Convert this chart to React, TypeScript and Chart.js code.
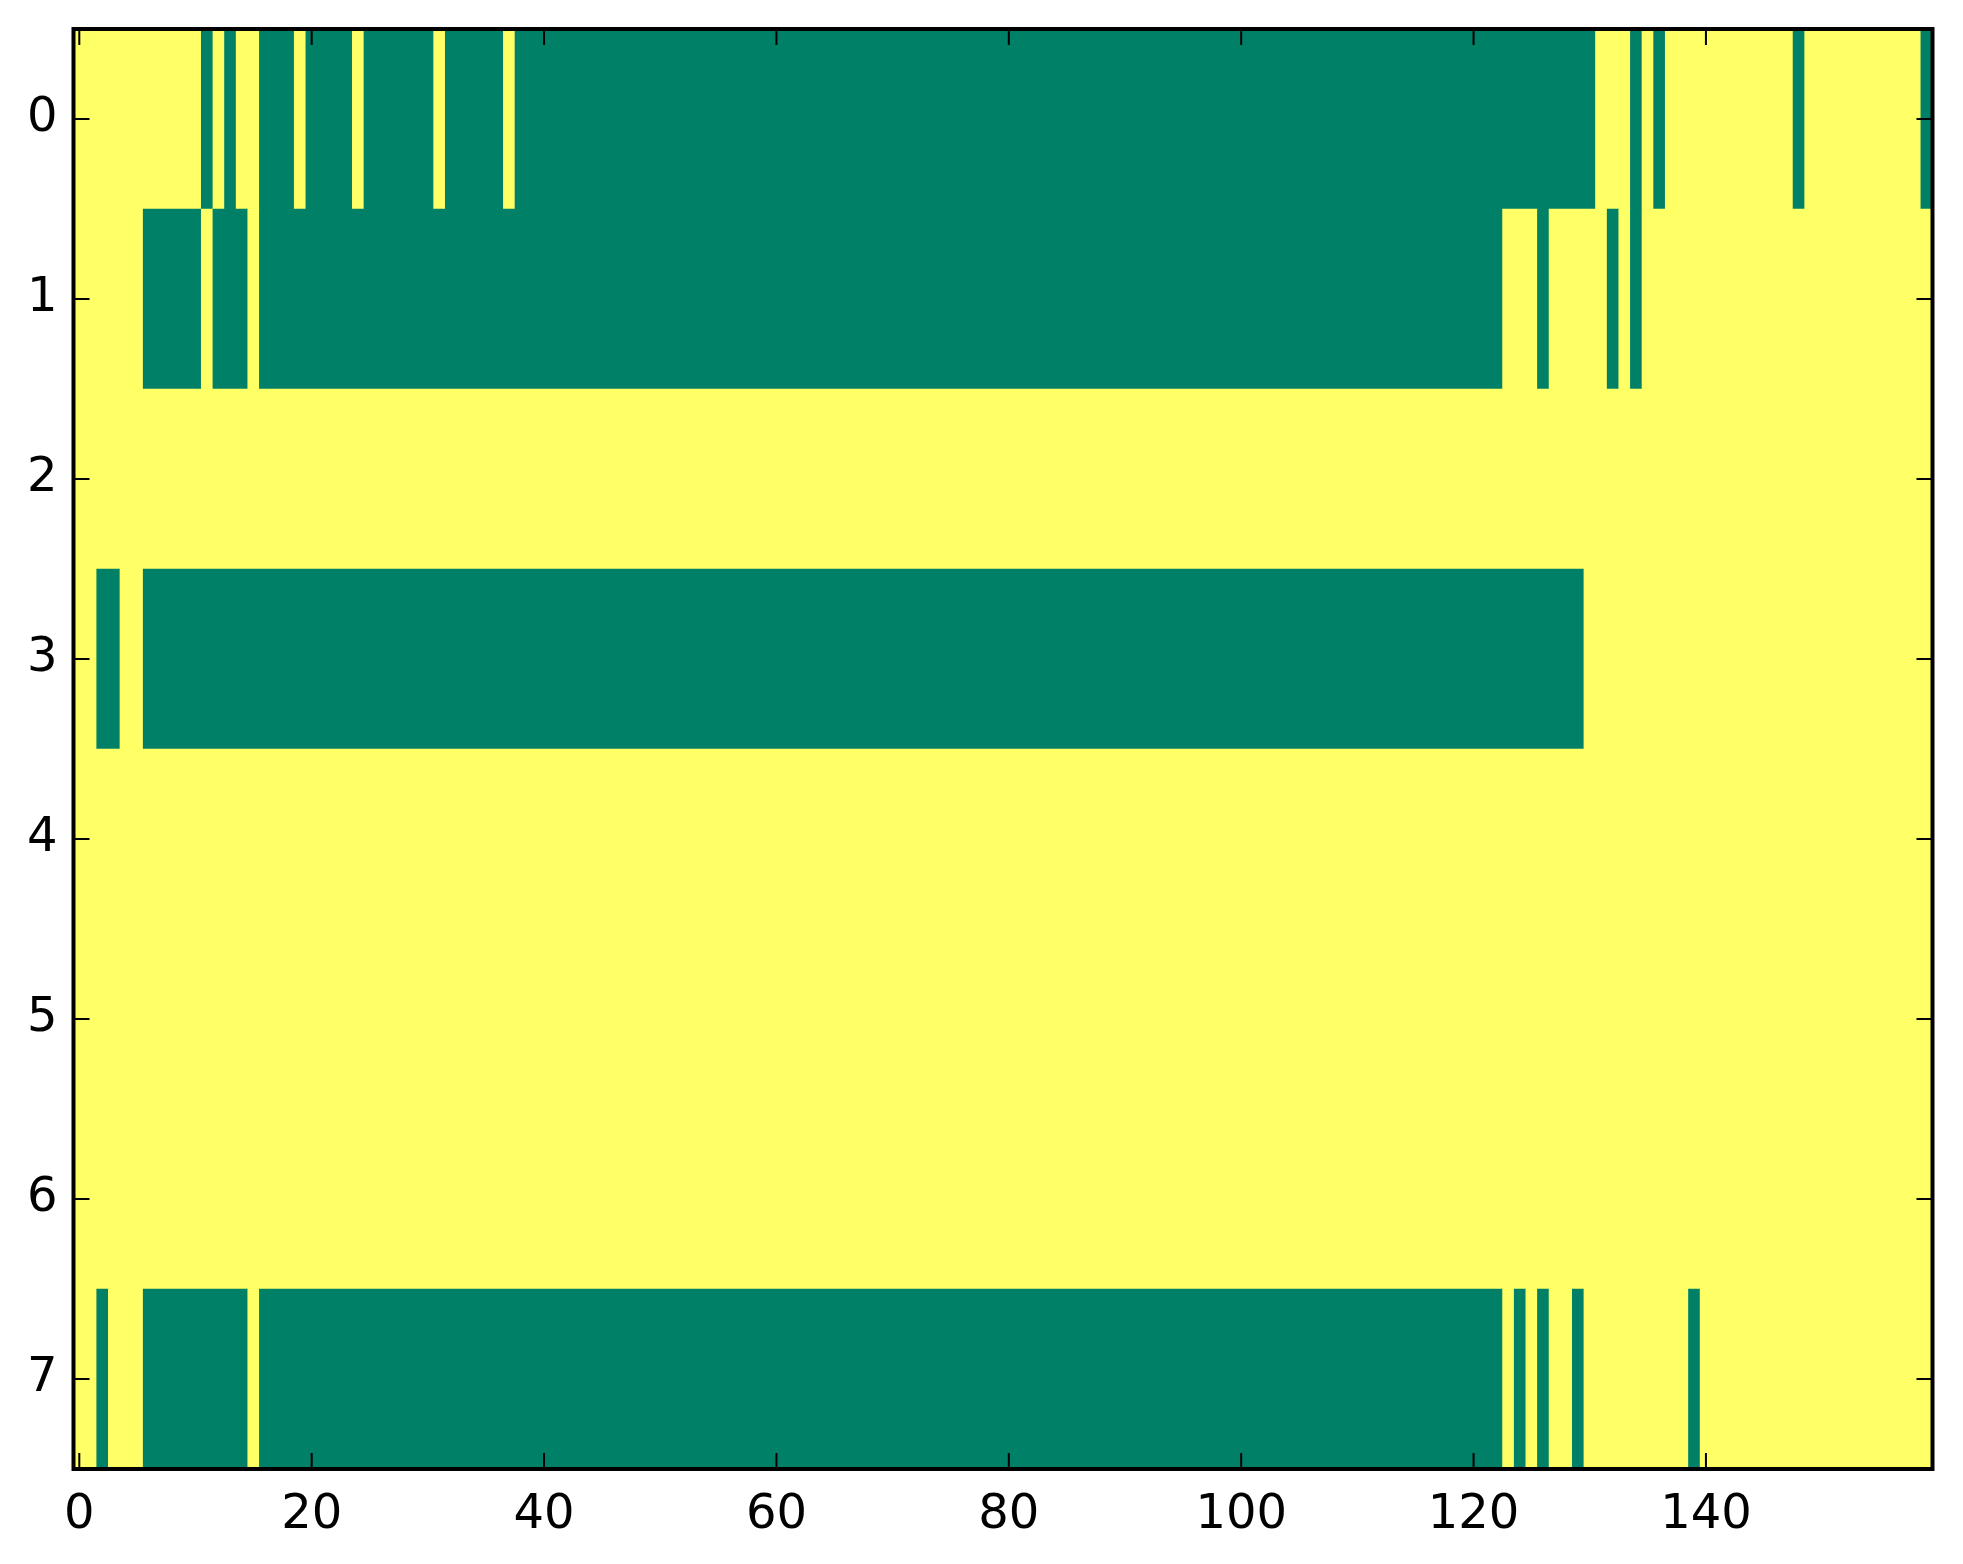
import { useEffect, useRef } from 'react';
import { Chart, registerables } from 'chart.js';

Chart.register(...registerables);

const rowTicks = [0, 1, 2, 3, 4, 5, 6, 7];
const colTicks = [0, 20, 40, 60, 80, 100, 120, 140];

// one string per row, 160 columns in groups of ten; 1 = high (yellow), 0 = low (green)
const row0 = '1111111111 1010110001 0000100000 0100000100 0000000000 0000000000 0000000000 0000000000 0000000000 0000000000 0000000000 0000000000 0000000000 0111010111 1111111101 1111111110';
const row1 = '1111110000 0100010000 0000000000 0000000000 0000000000 0000000000 0000000000 0000000000 0000000000 0000000000 0000000000 0000000000 0001110111 1101011111 1111111111 1111111111';
const row2 = '1111111111 1111111111 1111111111 1111111111 1111111111 1111111111 1111111111 1111111111 1111111111 1111111111 1111111111 1111111111 1111111111 1111111111 1111111111 1111111111';
const row3 = '1100110000 0000000000 0000000000 0000000000 0000000000 0000000000 0000000000 0000000000 0000000000 0000000000 0000000000 0000000000 0000000000 1111111111 1111111111 1111111111';
const row4 = '1111111111 1111111111 1111111111 1111111111 1111111111 1111111111 1111111111 1111111111 1111111111 1111111111 1111111111 1111111111 1111111111 1111111111 1111111111 1111111111';
const row5 = '1111111111 1111111111 1111111111 1111111111 1111111111 1111111111 1111111111 1111111111 1111111111 1111111111 1111111111 1111111111 1111111111 1111111111 1111111111 1111111111';
const row6 = '1111111111 1111111111 1111111111 1111111111 1111111111 1111111111 1111111111 1111111111 1111111111 1111111111 1111111111 1111111111 1111111111 1111111111 1111111111 1111111111';
const row7 = '1101110000 0000010000 0000000000 0000000000 0000000000 0000000000 0000000000 0000000000 0000000000 0000000000 0000000000 0000000000 0001010110 1111111110 1111111111 1111111111';

const LOW = '#008066';
const HIGH = '#ffff66';
const FONT = { family: "'DejaVu Sans', sans-serif", size: 48 };

const grid = [row0, row1, row2, row3, row4, row5, row6, row7].map((s) =>
  s.replace(/ /g, '').split('').map(Number)
);
const nCols = grid[0].length;

// merge equal neighbours of a row into one floating bar
const cells: { x: [number, number]; y: number; v: number }[] = [];
grid.forEach((vals, r) => {
  let start = 0;
  for (let c = 1; c <= vals.length; c++) {
    if (c === vals.length || vals[c] !== vals[start]) {
      cells.push({ x: [start - 0.5, c - 0.5], y: r, v: vals[start] });
      start = c;
    }
  }
});

const framePlugin = {
  id: 'frame',
  afterDatasetsDraw(chart: any) {
    const { ctx, chartArea: a, scales } = chart;
    ctx.save();
    ctx.strokeStyle = '#000';
    ctx.lineWidth = 2;
    ctx.beginPath();
    colTicks.forEach((v) => {
      const px = scales.x.getPixelForValue(v);
      ctx.moveTo(px, a.bottom);
      ctx.lineTo(px, a.bottom - 16);
      ctx.moveTo(px, a.top);
      ctx.lineTo(px, a.top + 16);
    });
    rowTicks.forEach((v) => {
      const py = scales.y.getPixelForValue(v);
      ctx.moveTo(a.left, py);
      ctx.lineTo(a.left + 16, py);
      ctx.moveTo(a.right, py);
      ctx.lineTo(a.right - 16, py);
    });
    ctx.stroke();
    ctx.lineWidth = 4;
    ctx.strokeRect(a.left, a.top, a.right - a.left, a.bottom - a.top);
    ctx.restore();
  },
};

export default function App() {
  const canvasRef = useRef<HTMLCanvasElement>(null);

  useEffect(() => {
    if (!canvasRef.current) return;
    const chart = new Chart(canvasRef.current, {
      type: 'bar',
      data: {
        datasets: [
          {
            data: cells as any,
            backgroundColor: cells.map((c) => (c.v ? HIGH : LOW)),
            borderWidth: 0,
            barPercentage: 1,
            categoryPercentage: 1,
          },
        ],
      },
      options: {
        indexAxis: 'y',
        animation: false,
        responsive: false,
        devicePixelRatio: 1,
        layout: { padding: { top: 29, right: 30.5, left: 0, bottom: 0 } },
        plugins: { legend: { display: false }, tooltip: { enabled: false } },
        scales: {
          x: {
            type: 'linear',
            offset: false,
            min: -0.5,
            max: nCols - 0.5,
            grid: { display: false, drawTicks: false, offset: false },
            border: { display: false },
            afterBuildTicks: (s: any) => {
              s.ticks = colTicks.map((value) => ({ value }));
            },
            afterFit: (s: any) => {
              s.height = 95;
              s.paddingLeft = 0;
              s.paddingRight = 0;
            },
            ticks: { font: FONT, color: '#000', padding: 18, autoSkip: false, maxRotation: 0 },
          },
          y: {
            type: 'linear',
            reverse: true,
            offset: false,
            min: -0.5,
            max: rowTicks.length - 0.5,
            grid: { display: false, drawTicks: false, offset: false },
            border: { display: false },
            afterBuildTicks: (s: any) => {
              s.ticks = rowTicks.map((value) => ({ value }));
            },
            afterFit: (s: any) => {
              s.width = 73.5;
              s.paddingTop = 0;
              s.paddingBottom = 0;
            },
            ticks: { font: FONT, color: '#000', padding: 16, autoSkip: false },
          },
        },
      },
      plugins: [framePlugin],
    });
    return () => chart.destroy();
  }, []);

  return (
    <div style={{ position: 'absolute', left: 0, top: 0, width: 1963, height: 1564 }}>
      <canvas ref={canvasRef} width={1963} height={1564} style={{ display: 'block' }} />
    </div>
  );
}
